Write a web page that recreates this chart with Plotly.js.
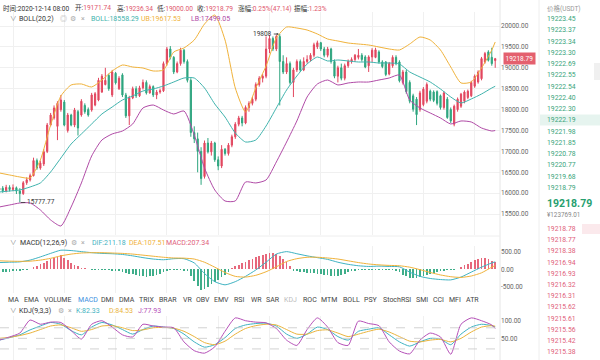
<!DOCTYPE html>
<html><head><meta charset="utf-8">
<script src="https://cdn.plot.ly/plotly-3.0.1.min.js"></script>
<style>html,body{margin:0;padding:0;background:#fff;}#chart{width:600px;height:360px;}</style>
</head><body><div id="chart"></div>
<script>
// ---------------- DATA ----------------
const open = [16080,16120,16060,16140,16090,16130,16050,15990,16250,16320,
16420,16780,16600,16700,17000,17630,17800,17600,18000,18180,
17500,17870,17630,17950,17870,18100,18000,17990,18110,18230,
18420,18600,18820,18350,18870,18500,18830,18350,17850,18280,
18500,18330,18520,18650,18400,18550,18350,18420,18450,19100,
19450,19250,18900,19100,19420,19150,18700,17450,17300,17000,
16400,17200,16990,17200,16800,16650,17050,16950,17150,17350,
17650,17800,17680,18050,18150,18250,18600,18750,18800,19450,
19700,19450,19750,19150,18900,19100,18650,18950,19150,18950,
19150,19200,19300,19500,19600,19450,19300,19450,19150,18800,
19000,18750,19050,19150,19200,19250,19300,19260,19050,19260,
19250,19380,19140,19140,18850,19050,19250,19140,18650,18900,
18650,18330,18250,18000,18120,18200,18440,18420,18430,18330,
18050,18250,18000,17650,18000,18080,18200,18290,18330,18560,
18660,18740,19140,19380,19250,19171.74];
const high = [16180,16170,16200,16190,16210,16160,16120,16290,16380,16470,
16850,16830,16780,17050,17680,17920,18100,18200,18350,18230,
17920,17900,18040,17990,18250,18150,18050,18400,18420,18760,
18850,19000,18860,18950,18900,18800,18870,18400,18330,18550,
18560,18570,18720,18700,18600,18580,18470,18500,19150,19500,
19520,19280,19150,19480,19450,19200,18750,17600,17450,17100,
17260,17320,17250,17230,16880,17150,17080,17200,17400,17700,
17850,17850,18100,18200,18300,18650,18800,18850,19750,19780,
19750,19790,19808,19300,19250,19150,19000,19200,19200,19250,
19300,19350,19600,19650,19620,19500,19500,19480,19200,19050,
19100,19100,19200,19250,19330,19450,19350,19300,19300,19470,
19480,19420,19180,19160,19140,19300,19300,19180,18950,18950,
18700,18380,18300,18450,18540,18650,18480,18460,18460,18360,
18440,18300,18050,18120,18290,18400,18460,18480,18690,18840,
18940,19260,19380,19420,19480,19236.34];
const low = [16030,16010,16020,16040,16050,15980,15777.77,15960,16200,16280,
16400,16560,16560,16650,16960,17600,17760,17270,17950,17600,
17450,17600,17580,17380,17830,17900,17830,17950,18080,18200,
18400,18580,18450,18300,18600,18470,18300,17800,17630,18250,
18280,18300,18480,18360,18380,18300,18250,18380,18420,19050,
19200,18850,18870,19050,19100,18650,17350,17200,16500,16200,
16350,16950,16900,16750,16550,16600,16900,16900,17100,17300,
17600,17600,17650,17950,18100,18200,18550,18650,18750,19350,
19400,19400,18100,18850,18850,18600,18300,18900,18900,18920,
19100,19150,19250,19450,19400,19250,19250,19100,18750,18650,
18700,18700,19000,19100,19150,19200,19150,18990,18900,19140,
19230,19100,18990,18800,18820,19000,19060,18650,18600,18380,
18150,17950,17630,17950,18080,18150,18200,18180,18100,18000,
18000,17780,17680,17600,17950,18040,18150,18250,18300,18520,
18620,18700,19100,19150,19050,19000.00];
const close = [16120,16060,16140,16090,16130,16050,15990,16250,16320,16420,
16780,16600,16720,16990,17630,17870,18040,18150,18230,17630,
17870,17630,17990,17560,18200,17950,17870,18350,18380,18700,
18800,18700,18500,18900,18640,18750,18350,17850,18280,18500,
18330,18520,18650,18400,18550,18350,18420,18450,19100,19450,
19250,18900,19100,19420,19150,18700,17450,17300,17000,16350,
17200,16990,17200,16800,16650,17050,16950,17150,17350,17650,
17800,17680,18050,18150,18250,18600,18750,18800,19450,19700,
19450,19750,19150,18900,19100,18650,18950,19150,18950,19150,
19200,19300,19550,19600,19450,19300,19450,19150,18800,19000,
18750,19050,19150,19200,19300,19300,19200,19020,19260,19420,
19430,19140,19030,18840,19100,19250,19100,18690,18900,18430,
18200,18010,17880,18400,18490,18600,18250,18220,18150,18050,
18400,17810,17730,18080,18250,18370,18420,18440,18650,18800,
18900,19220,19340,19180,19100,19218.79];

// indicator samples (candle index of each reading)
const bandIdx = [0,3,6,9,12,15,18,21,24,27,30,33,36,39,42,45,48,51,54,57,
60,63,66,69,72,75,78,81,84,87,90,93,96,99,102,105,108,111,114,117,
120,123,126,129,132,135,138,141,144,145];
const bollUpper = [16484,16436,16388,16364,16795,17632,18326,18589,18613,18541,
18708,18924,19067,19019,18995,18924,18948,19378,19474,19665,
20048,20263,19665,18517,17943,18517,19043,19713,19976,19952,
19904,19809,19689,19641,19593,19569,19545,19498,19450,19426,
19569,19737,19665,19426,19019,18637,18660,18995,19426,19617.53];
const bollMid = [16029,16053,16077,16149,16245,16508,16842,17177,17417,17656,
17895,18062,18230,18326,18445,18493,18565,18660,18756,18756,
18517,18134,17823,17440,17225,17273,17608,18039,18469,18804,
19091,19258,19163,19187,19163,19139,19139,19115,19115,19091,
18900,18780,18660,18493,18302,18158,18254,18373,18517,18558.29];
const bollLower = [15670,15718,15766,15766,15599,15360,15216,15670,16245,16890,
17273,17417,17488,17656,18039,18110,17991,17895,17967,17393,
16603,16077,15814,15814,16269,16245,16316,16747,17225,17728,
18302,18613,18708,18589,18637,18660,18660,18708,18756,18828,
18230,18039,17919,17799,17656,17728,17704,17560,17488,17499.05];

const macdDif = [190,200,210,260,350,450,540,530,500,470,
450,440,420,380,330,290,270,300,300,180,
-120,-350,-440,-350,-200,-20,200,430,500,440,
380,330,280,200,140,100,80,90,80,70,
-80,-200,-260,-290,-300,-220,-80,60,180,211.18];
const macdDea = [240,230,225,230,260,310,380,430,460,470,
470,460,450,430,400,370,340,320,315,290,
200,60,-90,-200,-220,-170,-70,70,220,300,
340,340,320,290,240,190,150,125,110,100,
60,-10,-90,-160,-210,-230,-190,-100,60,107.51];
const macdHist = [-100,-90,-80,-70,-60,-50,-40,-30,-10,20,
60,100,150,190,240,280,320,360,400,
330,260,190,120,
80,50,30,10,-10,-20,-10,-15,-20,-30,-40,-50,-60,
-80,-100,-120,-140,-160,-180,-200,-210,-200,-180,-150,-120,
-80,-50,-30,-20,-20,-30,-40,-60,
-200,-330,-460,-600,
-560,-500,-430,-360,-290,-220,-150,-80,
30,80,130,180,220,260,300,340,380,410,440,460,470,
440,380,300,200,100,
-40,-60,-80,-90,-100,-100,-110,-120,-130,-150,-170,
-200,-200,-180,-150,-120,
-90,-60,-40,-30,-20,
-20,-15,-10,-10,-10,-20,-20,-10,-15,
-40,-90,-150,-200,-240,-250,-240,
-210,-180,-150,-120,-100,-80,
-60,-40,-30,-20,-10,
20,60,110,160,210,260,290,320,310,280,240,207.34];

const kdjK = [45,52,60,74,85,95,90,72,60,82,
95,88,75,62,75,85,82,78,62,40,
25,32,52,78,88,92,93,85,62,50,
62,82,75,55,45,70,76,80,60,40,
28,40,50,48,32,62,82,90,86,82.33];
const kdjD = [50,53,58,65,75,85,88,80,70,75,
85,86,80,72,74,80,81,79,70,55,
38,32,42,62,78,86,90,88,75,62,
62,72,74,65,55,62,70,76,68,55,
42,40,45,47,40,50,68,82,86,84.53];
const kdjJ = [45,54,65,102,90,96,95,72,48,90,
100,82,60,54,90,85,82,80,40,15,
8,26,70,108,100,96,94,78,45,30,
75,108,82,38,30,99,92,86,40,14,
6,45,65,54,5,90,108,100,88,77.93];

const mainTicks = [15500,16000,16500,17000,17500,18000,18500,19000,19500,20000];
const macdTicks = [-500,0,500];
const kdjTicks = [0,50,100];

const headerTime = '时间:2020-12-14 08:00';
const headerFields = [['开','19171.74'],['高','19236.34'],['低','19000.00'],['收','19218.79'],['涨幅','0.25%(47.14)'],['振幅','1.23%']];
const bollLegend = ['BOLL:18558.29','UB:19617.53','LB:17499.05'];
const macdLegend = ['DIF:211.18','DEA:107.51','MACD:207.34'];
const kdjLegend = ['K:82.33','D:84.53','J:77.93'];
const indicatorTabs = ['MA','EMA','VOLUME','MACD','DMI','DMA','TRIX','BRAR','VR','OBV','EMV','RSI','WR','SAR','KDJ','ROC','MTM','BOLL','PSY','StochRSI','SMI','CCI','MFI','ATR'];
const askPrices = ['19223.45','19223.37','19223.34','19223.30','19222.69','19222.55','19222.54','19222.40','19222.30','19222.19','19221.98','19221.85','19220.78','19220.77','19219.68','19218.79'];
const bidPrices = ['19218.78','19218.77','19218.38','19216.94','19216.93','19216.32','19216.31','19215.62','19215.61','19215.56','19215.42','19215.38'];
const lastPrice = 19218.79;
const lastPriceCny = '¥123769.01';
const maxLabel = '19808', maxIdx = 82, maxVal = 19808;
const minLabel = '15777.77', minIdx = 6, minVal = 15777.77;

// ---------------- STYLE / LAYOUT ----------------
const RED = '#e2475f', GREEN = '#2ea57f';
const C_UB = '#f0b23a', C_MB = '#3fb3ad', C_LB = '#b04aa6';
const C_DIF = '#3fb3c2', C_DEA = '#f0b23a', C_MACD = '#e0607a';
const C_K = '#3fb3c2', C_D = '#eab43c', C_J = '#b550b8';
const VAL = '#e0566c';
const FONT = 'Roboto, "Noto Sans CJK SC", sans-serif';
const PW = 500, PH = 360;
const px = v => v / PW, py = v => 1 - v / PH;
const idx = close.map((_, i) => i);

function T(text, x, y, color, size, extra) {
  return Object.assign({text, x: px(x), y: py(y), xref: 'paper', yref: 'paper',
    xanchor: 'left', yanchor: 'middle', showarrow: false, borderpad: 0,
    font: {family: FONT, size: size || 7, color: color || '#333'}}, extra || {});
}
const span = (t, c) => `<span style="color:${c}">${t}</span>`;

const ann = [];
// header row 1
ann.push(T(headerTime, 2, 8, '#333', 6.6));
const hx = [74, 116, 156, 196, 237, 293];
headerFields.forEach((f, i) => ann.push(T(f[0] + ':' + span(f[1], VAL), hx[i], 8, '#333', 6.6)));
// header row 2 (BOLL)
ann.push(T('∨', 9, 19, '#777', 6.5));
ann.push(T('BOLL(20,2)', 18, 19, '#333', 7));
ann.push(T('◎', 59, 19, '#aaa', 7));
ann.push(T('⚙', 69, 19, '#aaa', 7));
ann.push(T('×', 80, 19, '#aaa', 7));
[[90, C_MB], [140, C_UB], [190, C_LB]].forEach((p, i) => ann.push(T(bollLegend[i], p[0], 19, p[1], 7)));
// MACD header
ann.push(T('∨', 9, 243, '#777', 6.5));
ann.push(T('MACD(12,26,9)', 19, 243, '#333', 7));
ann.push(T('⚙', 70, 243, '#aaa', 7));
ann.push(T('×', 80, 243, '#aaa', 7));
[[91, C_DIF], [128, C_DEA], [165, C_MACD]].forEach((p, i) => ann.push(T(macdLegend[i], p[0], 243, p[1], 7)));
// indicator tabs
const tabX = [7,23,43,77,100,118,138,158,182,195,213,233,250,265,283,302,320,342,363,382,415,432,448,465];
indicatorTabs.forEach((t, i) => ann.push(T(t, tabX[i], 300, t === 'MACD' ? '#3d8fe0' : (t === 'KDJ' ? '#bbbbbb' : '#444'), 7)));
// KDJ header
ann.push(T('∨', 9, 311, '#777', 6.5));
ann.push(T('KDJ(9,3,3)', 18, 311, '#333', 7));
ann.push(T('⚙', 57, 311, '#aaa', 7));
ann.push(T('×', 67, 311, '#aaa', 7));
[[75, C_K], [108, C_D], [137, C_J]].forEach((p, i) => ann.push(T(kdjLegend[i], p[0], 311, p[1], 7)));
// order book
ann.push(T('价格(USDT)', 546, 8, '#999', 6.5));
askPrices.forEach((p, i) => ann.push(T(p, 546, 19 + i * 11.25, '#3aa57c', 6.8)));
ann.push(T(lastPrice.toFixed(2), 546, 203, '#27a06f', 10.5, {font: {family: FONT, size: 10.5, color: '#27a06f', weight: 700}}));
ann.push(T(lastPriceCny, 546, 214.5, '#888', 6.3));
bidPrices.forEach((p, i) => ann.push(T(p, 546, 229 + i * 11.2, '#e0607a', 6.8)));
// last price tag
ann.push({text: lastPrice.toFixed(2), x: px(503), y: lastPrice, xref: 'paper', yref: 'y', xanchor: 'left', yanchor: 'middle',
  showarrow: false, bgcolor: '#e4606e', borderpad: 1.5, font: {family: FONT, size: 6.5, color: '#fff'}});
// extremes
ann.push({text: maxLabel, x: maxIdx, y: maxVal, xref: 'x', yref: 'y', showarrow: true, ax: -17, ay: 0,
  arrowhead: 2, arrowsize: 0.5, arrowwidth: 0.8, arrowcolor: '#333', standoff: 1, font: {family: FONT, size: 6.5, color: '#333'}});
ann.push({text: minLabel, x: minIdx, y: minVal, xref: 'x', yref: 'y', showarrow: true, ax: 21, ay: 0,
  arrowhead: 0, arrowwidth: 0.8, arrowcolor: '#333', standoff: 1, font: {family: FONT, size: 6.5, color: '#333'}});

const shapes = [
  {type: 'line', xref: 'paper', yref: 'paper', x0: 1, x1: 1, y0: 0, y1: 1, line: {color: '#e6e6e6', width: 1}},
  {type: 'line', xref: 'paper', yref: 'paper', x0: px(539), x1: px(539), y0: 0, y1: 1, line: {color: '#eeeeee', width: 1}},
  {type: 'line', xref: 'paper', yref: 'paper', x0: 0, x1: 1, y0: py(236), y1: py(236), line: {color: '#eeeeee', width: 1}},
  {type: 'rect', xref: 'paper', yref: 'paper', x0: px(540), x1: px(600), y0: py(125.5), y1: py(114.5), fillcolor: 'rgba(46,165,127,0.12)', line: {width: 0}},
  {type: 'rect', xref: 'paper', yref: 'paper', x0: px(582), x1: px(600), y0: py(234), y1: py(224), fillcolor: 'rgba(226,71,95,0.12)', line: {width: 0}},
  {type: 'rect', xref: 'paper', yref: 'paper', x0: px(594), x1: px(600), y0: py(80), y1: py(63), fillcolor: 'rgba(0,0,0,0.06)', line: {width: 0}}
];
[20, 50, 80].forEach(v => shapes.push({type: 'line', xref: 'paper', yref: 'y3', x0: 0, x1: 1, y0: v, y1: v,
  line: {color: '#c8c8c8', width: 0.8, dash: 'dash'}}));

const lineT = (y, color, yaxis) => ({type: 'scatter', mode: 'lines', x: bandIdx, y, yaxis,
  line: {color, width: 1, shape: 'spline', smoothing: 0.6}, hoverinfo: 'skip'});

const traces = [
  lineT(bollUpper, C_UB, 'y'), lineT(bollMid, C_MB, 'y'), lineT(bollLower, C_LB, 'y'),
  {type: 'candlestick', x: idx, open, high, low, close, xaxis: 'x', yaxis: 'y', whiskerwidth: 0,
   increasing: {line: {color: RED, width: 1}, fillcolor: RED},
   decreasing: {line: {color: GREEN, width: 1}, fillcolor: GREEN}, hoverinfo: 'skip'},
  {type: 'bar', x: idx, y: macdHist, yaxis: 'y2', width: 0.5,
   marker: {color: macdHist.map(v => v >= 0 ? '#e6687c' : '#3fae8a'), line: {width: 0}}, hoverinfo: 'skip'},
  lineT(macdDif, C_DIF, 'y2'), lineT(macdDea, C_DEA, 'y2'),
  lineT(kdjK, C_K, 'y3'), lineT(kdjD, C_D, 'y3'), lineT(kdjJ, C_J, 'y3')
];

const tickFont = {family: FONT, size: 6.5, color: '#666'};
const layout = {
  width: 600, height: 360, margin: {l: 0, r: 100, t: 0, b: 0}, paper_bgcolor: '#fff', plot_bgcolor: '#fff',
  showlegend: false, hovermode: false, bargap: 0, boxgap: 0.5,
  xaxis: {domain: [0, 1], range: [0.2, 146.4], showticklabels: false, showgrid: true, gridcolor: '#f0f0f0',
    tickmode: 'linear', tick0: 4, dtick: 15, zeroline: false, showline: false, ticks: '', rangeslider: {visible: false}, fixedrange: true},
  yaxis: {domain: [py(235), py(12)], range: [15000, 20335], side: 'right', tickvals: mainTicks,
    ticktext: mainTicks.map(v => v.toFixed(2)), showgrid: true, gridcolor: '#f0f0f0', zeroline: false, ticks: '', tickfont: tickFont},
  yaxis2: {domain: [py(293), py(246)], range: [-671, 659], side: 'right', anchor: 'x', tickvals: macdTicks,
    ticktext: macdTicks.map(v => v.toFixed(2)), showgrid: false, zeroline: false, ticks: '', tickfont: tickFont},
  yaxis3: {domain: [0, py(316)], range: [-11.4, 113.4], side: 'right', anchor: 'x', tickvals: kdjTicks,
    ticktext: kdjTicks.map(v => v.toFixed(2)), showgrid: false, zeroline: false, ticks: '', tickfont: tickFont},
  annotations: ann, shapes: shapes
};
Plotly.newPlot('chart', traces, layout, {displayModeBar: false, staticPlot: true});
</script></body></html>
